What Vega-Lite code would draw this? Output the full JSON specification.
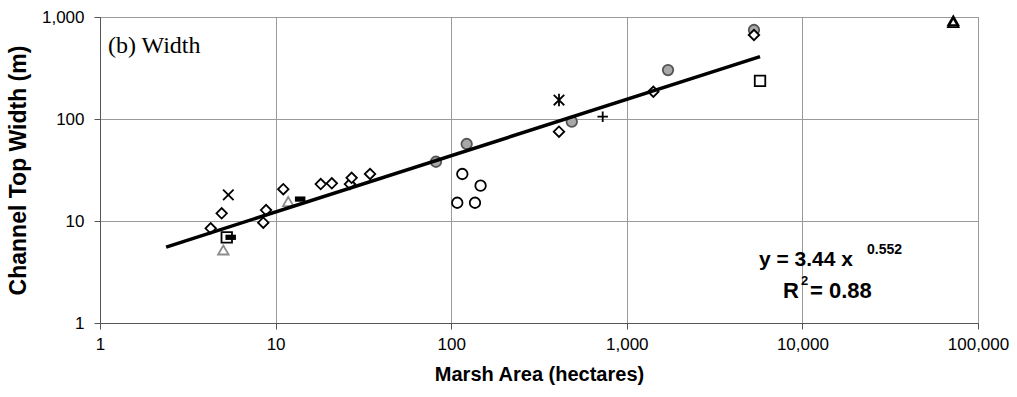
{
  "$schema": "https://vega.github.io/schema/vega-lite/v6.json",
  "width": 878,
  "height": 306,
  "autosize": {"type": "none"},
  "padding": {"left": 100, "top": 17, "right": 39, "bottom": 74},
  "background": "white",
  "config": {
    "view": {"stroke": "#8a8a8a", "strokeWidth": 1},
    "axis": {
      "labelFont": "Liberation Sans",
      "labelFontSize": 17,
      "labelColor": "black",
      "titleFont": "Liberation Sans",
      "titleFontSize": 20,
      "titleFontWeight": "bold",
      "titleColor": "black",
      "gridColor": "#9a9a9a",
      "gridWidth": 1,
      "domainColor": "#555",
      "tickColor": "#555",
      "tickSize": 6,
      "labelFlush": false,
      "labelOverlap": false,
      "labelBound": false
    }
  },
  "datasets": {
    "pts": [
      {"area": 81.9, "width": 38.1, "series": "graycircle"},
      {"area": 122.5, "width": 56.9, "series": "graycircle"},
      {"area": 486, "width": 94.1, "series": "graycircle"},
      {"area": 1717, "width": 302, "series": "graycircle"},
      {"area": 5300, "width": 746, "series": "graycircle"},
      {"area": 4.27, "width": 8.48, "series": "diamond"},
      {"area": 4.93, "width": 11.9, "series": "diamond"},
      {"area": 8.51, "width": 9.62, "series": "diamond"},
      {"area": 8.82, "width": 12.8, "series": "diamond"},
      {"area": 11.06, "width": 20.5, "series": "diamond"},
      {"area": 18.07, "width": 23.0, "series": "diamond"},
      {"area": 20.9, "width": 23.4, "series": "diamond"},
      {"area": 26.5, "width": 23.0, "series": "diamond"},
      {"area": 27.1, "width": 26.5, "series": "diamond"},
      {"area": 34.5, "width": 28.9, "series": "diamond"},
      {"area": 411, "width": 75.1, "series": "diamond"},
      {"area": 1416, "width": 185, "series": "diamond"},
      {"area": 5300, "width": 666, "series": "diamond"},
      {"area": 5.27, "width": 6.92, "series": "square"},
      {"area": 5737, "width": 236, "series": "square"},
      {"area": 5.55, "width": 6.92, "series": "dash"},
      {"area": 13.8, "width": 16.4, "series": "dash"},
      {"area": 5.04, "width": 5.2, "series": "triangle"},
      {"area": 11.8, "width": 15.5, "series": "triangle"},
      {"area": 72300, "width": 920, "series": "triangle2"},
      {"area": 72300, "width": 880, "series": "triangle2"},
      {"area": 5.38, "width": 18.0, "series": "cross"},
      {"area": 115.7, "width": 28.9, "series": "circle"},
      {"area": 147, "width": 22.2, "series": "circle"},
      {"area": 108.3, "width": 15.1, "series": "circle"},
      {"area": 136.6, "width": 15.1, "series": "circle"},
      {"area": 411, "width": 153.5, "series": "asterisk"},
      {"area": 729, "width": 105.4, "series": "plus"}
    ],
    "fit": [
      {"area": 2.38, "width": 5.55},
      {"area": 5737, "width": 409}
    ],
    "one": [{}]
  },
  "layer": [
    {
      "data": {"name": "pts"},
      "mark": {"type": "point", "opacity": 1, "strokeWidth": 1.8},
      "encoding": {
        "x": {
          "field": "area", "type": "quantitative",
          "scale": {"type": "log", "domain": [1, 100000], "nice": false},
          "axis": {"title": "Marsh Area (hectares)", "values": [1, 10, 100, 1000, 10000, 100000], "format": ",", "labelPadding": 7, "titlePadding": 12, "grid": true}
        },
        "y": {
          "field": "width", "type": "quantitative",
          "scale": {"type": "log", "domain": [1, 1000], "nice": false},
          "axis": {"title": "Channel Top Width (m)", "titleFontSize": 23, "values": [1, 10, 100, 1000], "format": ",", "labelPadding": 10, "titlePadding": 11, "grid": true}
        },
        "shape": {
          "field": "series", "type": "nominal", "legend": null,
          "scale": {
            "domain": ["diamond", "square", "dash", "triangle", "triangle2", "cross", "circle", "graycircle", "asterisk", "plus"],
            "range": ["diamond", "square", "M-1,-0.5L1,-0.5L1,0.5L-1,0.5Z", "triangle-up", "triangle-up", "M-1,-1L1,1M1,-1L-1,1", "circle", "circle", "M-1,-1L1,1M1,-1L-1,1M0,-1.2L0,1.2", "M-1,0L1,0M0,-1L0,1"]
          }
        },
        "fill": {
          "field": "series", "type": "nominal", "legend": null,
          "scale": {
            "domain": ["diamond", "square", "dash", "triangle", "triangle2", "cross", "circle", "graycircle", "asterisk", "plus"],
            "range": ["white", "transparent", "black", "transparent", "transparent", "transparent", "transparent", "#a8a8a8", "transparent", "transparent"]
          }
        },
        "stroke": {
          "field": "series", "type": "nominal", "legend": null,
          "scale": {
            "domain": ["diamond", "square", "dash", "triangle", "triangle2", "cross", "circle", "graycircle", "asterisk", "plus"],
            "range": ["black", "black", "transparent", "#8c8c8c", "black", "black", "black", "#555555", "black", "black"]
          }
        },
        "size": {
          "field": "series", "type": "nominal", "legend": null,
          "scale": {
            "domain": ["diamond", "square", "dash", "triangle", "triangle2", "cross", "circle", "graycircle", "asterisk", "plus"],
            "range": [110, 110, 70, 130, 110, 150, 150, 150, 150, 160]
          }
        }
      }
    },
    {
      "data": {"name": "fit"},
      "mark": {"type": "line", "color": "black", "strokeWidth": 3.5},
      "encoding": {
        "x": {"field": "area", "type": "quantitative"},
        "y": {"field": "width", "type": "quantitative"}
      }
    },
    {
      "data": {"name": "one"},
      "mark": {"type": "text", "text": "(b) Width", "font": "Liberation Serif", "fontSize": 24, "align": "left", "baseline": "alphabetic", "color": "black"},
      "encoding": {"x": {"datum": 1.11}, "y": {"datum": 444}}
    },
    {
      "data": {"name": "one"},
      "mark": {"type": "text", "text": "y = 3.44 x", "font": "Liberation Sans", "fontSize": 21, "fontWeight": "bold", "align": "center", "baseline": "alphabetic", "color": "black"},
      "encoding": {"x": {"datum": 10483}, "y": {"datum": 3.62}}
    },
    {
      "data": {"name": "one"},
      "mark": {"type": "text", "text": "0.552", "font": "Liberation Sans", "fontSize": 14, "fontWeight": "bold", "align": "left", "baseline": "alphabetic", "color": "black"},
      "encoding": {"x": {"datum": 23330}, "y": {"datum": 4.75}}
    },
    {
      "data": {"name": "one"},
      "mark": {"type": "text", "text": "R", "font": "Liberation Sans", "fontSize": 22, "fontWeight": "bold", "align": "left", "baseline": "alphabetic", "color": "black"},
      "encoding": {"x": {"datum": 7754}, "y": {"datum": 1.758}}
    },
    {
      "data": {"name": "one"},
      "mark": {"type": "text", "text": "2", "font": "Liberation Sans", "fontSize": 13, "fontWeight": "bold", "align": "left", "baseline": "alphabetic", "color": "black"},
      "encoding": {"x": {"datum": 9820}, "y": {"datum": 2.36}}
    },
    {
      "data": {"name": "one"},
      "mark": {"type": "text", "text": "= 0.88", "font": "Liberation Sans", "fontSize": 22, "fontWeight": "bold", "align": "left", "baseline": "alphabetic", "color": "black"},
      "encoding": {"x": {"datum": 11050}, "y": {"datum": 1.758}}
    }
  ]
}
